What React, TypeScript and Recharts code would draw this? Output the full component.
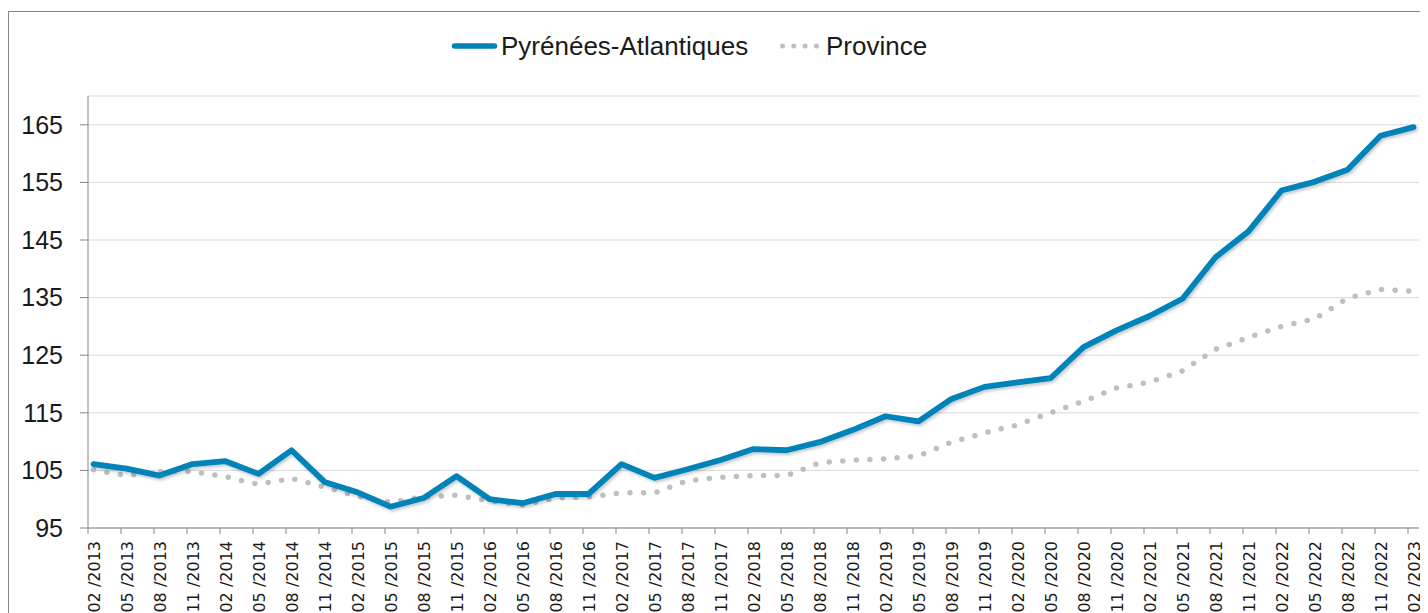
import { LineChart, Line, XAxis, YAxis, CartesianGrid, Legend } from 'recharts'

// quarterly labels, plotted on a monthly date-like axis (one band per month)
const labels = [
  '02 /2013', '05 /2013', '08 /2013', '11 /2013',
  '02 /2014', '05 /2014', '08 /2014', '11 /2014',
  '02 /2015', '05 /2015', '08 /2015', '11 /2015',
  '02 /2016', '05 /2016', '08 /2016', '11 /2016',
  '02 /2017', '05 /2017', '08 /2017', '11 /2017',
  '02 /2018', '05 /2018', '08 /2018', '11 /2018',
  '02 /2019', '05 /2019', '08 /2019', '11 /2019',
  '02 /2020', '05 /2020', '08 /2020', '11 /2020',
  '02 /2021', '05 /2021', '08 /2021', '11 /2021',
  '02 /2022', '05 /2022', '08 /2022', '11 /2022',
  '02 /2023',
]

const pyrenees = [
  106.1, 105.3, 104.1, 106.1, 106.6, 104.4, 108.5, 103.0,
  101.2, 98.7, 100.2, 104.0, 100.0, 99.3, 100.9, 100.9,
  106.1, 103.7, 105.2, 106.8, 108.7, 108.5, 109.9, 112.0,
  114.4, 113.5, 117.4, 119.5, 120.3, 121.0, 126.4, 129.3,
  131.8, 134.8, 142.0, 146.5, 153.6, 155.1, 157.2, 163.1,
  164.6,
]

const province = [
  105.1, 104.1, 104.8, 104.8, 103.9, 102.6, 103.6, 102.1,
  100.5, 99.5, 100.4, 100.7, 99.7, 99.0, 100.2, 100.4,
  101.1, 101.1, 103.2, 103.8, 104.1, 104.1, 106.3, 106.8,
  107.0, 107.5, 109.9, 111.5, 112.9, 115.0, 117.0, 119.3,
  120.3, 122.3, 126.0, 128.1, 130.0, 131.3, 134.9, 136.4,
  136.1,
]

const yTicks = [95, 105, 115, 125, 135, 145, 155, 165]

const monthIdx = labels.map((_, i) => i * 3)

const data = labels.map((label, i) => ({
  m: monthIdx[i],
  label,
  pa: pyrenees[i],
  prov: province[i],
}))

const CHART_W = 1430
const CHART_H = 620
const Y_W = 79
const M_RIGHT = 20
const PLOT_W = CHART_W - Y_W - M_RIGHT
const HALF_BAND = PLOT_W / 121 / 2

const BLUE = '#0083b9'
const GREY = '#bfbfbf'
const AXIS = '#868686'

function XTick({ x, y, index }: { x?: number; y?: number; index?: number }) {
  const cx = x ?? 0
  const cy = y ?? 0
  return (
    <g>
      <line
        x1={cx - HALF_BAND}
        x2={cx - HALF_BAND}
        y1={cy}
        y2={cy + 6}
        stroke={AXIS}
      />
      <text
        x={cx + 1}
        y={cy + 13}
        transform={`rotate(-90, ${cx + 1}, ${cy + 13})`}
        textAnchor="end"
        dominantBaseline="central"
        fontFamily="DejaVu Sans"
        fontSize={16}
        fill="#1a1a1a"
      >
        {labels[index ?? 0]}
      </text>
    </g>
  )
}

function LegendBox() {
  return (
    <svg width={CHART_W} height={48} style={{ display: 'block' }}>
      <line
        x1={445.5}
        x2={485.5}
        y1={24}
        y2={24}
        stroke={BLUE}
        strokeWidth={5.5}
        strokeLinecap="round"
      />
      <text
        x={492}
        y={24}
        dominantBaseline="central"
        fontFamily="Liberation Sans"
        fontSize={26}
        fill="#1a1a1a"
      >
        Pyrénées-Atlantiques
      </text>
      <line
        x1={773.5}
        x2={808}
        y1={24}
        y2={24}
        stroke={GREY}
        strokeWidth={5}
        strokeLinecap="round"
        strokeDasharray="0 11.3"
      />
      <text
        x={817}
        y={24}
        dominantBaseline="central"
        fontFamily="Liberation Sans"
        fontSize={26}
        fill="#1a1a1a"
      >
        Province
      </text>
    </svg>
  )
}

export default function App() {
  return (
    <div
      style={{
        position: 'relative',
        marginTop: 3,
        width: CHART_W + 2,
        height: CHART_H + 2,
        border: `1px solid ${AXIS}`,
        background: '#fff',
      }}
    >
      <style>{'html, body { overflow: hidden; }'}</style>
      <LineChart
        width={CHART_W}
        height={CHART_H}
        data={data}
        margin={{ top: 36, right: M_RIGHT, left: 0, bottom: 8 }}
      >
        <defs>
          <filter id="soft" x="-5%" y="-10%" width="110%" height="130%">
            <feDropShadow
              dx={1.5}
              dy={2}
              stdDeviation={1.5}
              floodColor="#000"
              floodOpacity={0.22}
            />
          </filter>
        </defs>
        <Legend
          verticalAlign="top"
          content={<LegendBox />}
          wrapperStyle={{ top: 10, left: 0, width: CHART_W }}
        />
        <CartesianGrid vertical={false} stroke="#d9d9d9" />
        <XAxis
          dataKey="m"
          type="number"
          domain={[-0.5, 120.5]}
          ticks={monthIdx}
          interval={0}
          tick={<XTick />}
          tickLine={false}
          tickSize={0}
          tickMargin={0}
          axisLine={{ stroke: AXIS }}
          height={96}
        />
        <YAxis
          width={Y_W}
          domain={[95, 170]}
          ticks={yTicks}
          interval={0}
          tickSize={8}
          tickMargin={17}
          tickLine={{ stroke: AXIS }}
          axisLine={{ stroke: AXIS }}
          tick={{ fill: '#1a1a1a', fontSize: 25, fontFamily: 'Liberation Sans' }}
        />
        <Line
          dataKey="prov"
          type="linear"
          stroke={GREY}
          strokeWidth={5.5}
          strokeLinecap="round"
          strokeDasharray="0 13.6"
          dot={false}
          activeDot={false}
          isAnimationActive={false}
        />
        <Line
          dataKey="pa"
          type="linear"
          stroke={BLUE}
          strokeWidth={5.8}
          strokeLinejoin="round"
          strokeLinecap="round"
          filter="url(#soft)"
          dot={false}
          activeDot={false}
          isAnimationActive={false}
        />
      </LineChart>
    </div>
  )
}
